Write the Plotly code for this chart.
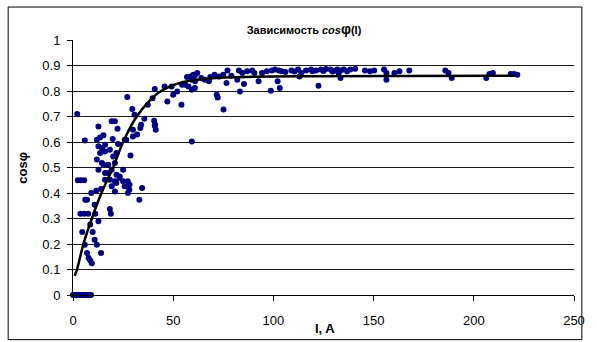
import plotly.graph_objects as go

# ---- data ----
current_I = [
    0, 0.4, 0.9, 1.4, 1.9, 2.4, 3, 3.6, 4.2, 4.8, 5.4, 6, 6.6, 7.2, 7.8, 8.4, 9,
    2.4, 4.0, 5.6, 6.1, 7.0, 3.7, 5.6, 7.6, 11.1, 4.6, 9.8, 5.9, 10.8, 11.9,
    7.0, 7.8, 8.6, 9.4, 14, 8.6, 12.7, 10.8, 9.1, 11.6, 14, 18.4, 18.9, 33.1, 34.5,
    16, 18.4, 20.9, 23.3, 25, 25.8, 28.2, 27.4, 20.9, 19.3, 16, 17.6, 19.3, 21.7, 25,
    14.4, 11.9, 12.7, 15.2, 17.6, 20.9, 13.5, 16, 18.4, 20.1, 21.7, 28.7,
    28.1, 27.3, 23.2, 21.6,
    2.1, 5.9, 12.7, 11.9, 13.5, 15.2, 12.7, 14.4, 16,
    19.3, 20.9, 22.2, 19.8, 22.5, 25.8, 26.6,
    27.1, 29.6, 30.7, 29.9, 29.9, 32, 33.6, 34, 35.6, 37.3, 39.7, 40.8, 40.5, 41, 41.3,
    40.8, 45.7, 47.1, 49.2, 50, 52, 54.1, 54.4, 56, 57.6, 56.9, 58.5, 59.3, 60.1, 60.9,
    59.3, 59.3,
    60.8, 60.8, 64, 65.7, 67.8, 70.6, 73, 75, 77.1, 71.7, 72.2, 75.1, 76.6, 82.8, 84.5,
    86.9, 89.4, 82, 85.3, 83.3, 92.6, 94.3, 96.7, 99.2, 100.8, 102.7, 104.1, 102.1,
    103.2, 98.7, 109, 112.3, 113.9, 116.3, 118.8, 121.3, 123.7, 126.2, 128.6, 131.1,
    132.6, 113, 122.5, 131.9, 133.5, 135.1, 136.8, 138.4, 140.8, 133.5, 145.7, 148.2,
    150.3, 155.2, 156.4, 156.4, 160.4, 162.9, 167.8, 185.8, 187.4, 189, 206.2, 207.8,
    209.5, 218.4, 220.1, 221.7,
    62, 68.5, 79, 90.5, 106, 110.5, 119.5, 125, 129.5,
]
cos_phi = [
    0, 0, 0, 0, 0, 0, 0, 0, 0, 0, 0, 0, 0, 0, 0, 0, 0,
    0.45, 0.45, 0.45, 0.374, 0.374, 0.319, 0.319, 0.319, 0.319, 0.247, 0.247, 0.197, 0.217, 0.197,
    0.165, 0.145, 0.135, 0.125, 0.165, 0.276, 0.289, 0.354, 0.4, 0.409, 0.416, 0.337, 0.319, 0.374, 0.42,
    0.452, 0.452, 0.446, 0.465, 0.446, 0.426, 0.432, 0.4, 0.406, 0.426, 0.478, 0.478, 0.491, 0.472, 0.491,
    0.518, 0.531, 0.491, 0.511, 0.511, 0.518, 0.557, 0.563, 0.57, 0.543, 0.557, 0.547,
    0.413, 0.446, 0.459, 0.439,
    0.71, 0.606, 0.661, 0.609, 0.618, 0.626, 0.583, 0.576, 0.589,
    0.681, 0.681, 0.652, 0.612, 0.592, 0.609, 0.609,
    0.776, 0.729, 0.707, 0.648, 0.622, 0.629, 0.655, 0.668, 0.691, 0.746, 0.772, 0.808, 0.683, 0.668, 0.648,
    0.664, 0.818, 0.759, 0.818, 0.785, 0.798, 0.746, 0.825, 0.825, 0.818, 0.855, 0.857, 0.844, 0.864, 0.838,
    0.805, 0.602,
    0.861, 0.812, 0.851, 0.844, 0.838, 0.864, 0.857, 0.864, 0.88, 0.785, 0.775, 0.727, 0.831, 0.88, 0.871,
    0.877, 0.88, 0.844, 0.827, 0.798, 0.838, 0.871, 0.877, 0.88, 0.884, 0.88, 0.877, 0.838,
    0.812, 0.801, 0.88, 0.884, 0.871, 0.88, 0.884, 0.88, 0.884, 0.886, 0.884, 0.88,
    0.871, 0.857, 0.821, 0.884, 0.88, 0.884, 0.877, 0.884, 0.887, 0.851, 0.88, 0.877,
    0.88, 0.884, 0.871, 0.844, 0.871, 0.877, 0.88, 0.88, 0.871, 0.851, 0.851, 0.867,
    0.871, 0.867, 0.867, 0.864,
    0.871, 0.855, 0.86, 0.871, 0.875, 0.876, 0.877, 0.878, 0.876,
]

trend_I = [0.8, 2, 5.2, 9.4, 14.2, 20, 25, 31, 38, 44, 55, 69, 90, 120, 160, 220]
trend_cos = [0.075, 0.10, 0.20, 0.30, 0.40, 0.50, 0.60, 0.69, 0.76, 0.80, 0.835, 0.85,
             0.856, 0.858, 0.859, 0.86]

x_ticks = [0, 50, 100, 150, 200, 250]
y_ticks = [0, 0.1, 0.2, 0.3, 0.4, 0.5, 0.6, 0.7, 0.8, 0.9, 1]
y_tick_labels = ["0", "0.1", "0.2", "0.3", "0.4", "0.5", "0.6", "0.7", "0.8", "0.9", "1"]

FONT = "Liberation Sans, Arial, sans-serif"

fig = go.Figure()
fig.add_trace(go.Scatter(
    x=current_I, y=cos_phi, mode="markers",
    marker=dict(color="#000080", size=6, line=dict(width=0)),
    cliponaxis=False, showlegend=False, hoverinfo="skip",
))
fig.add_trace(go.Scatter(
    x=trend_I, y=trend_cos, mode="lines",
    line=dict(color="#000000", width=2.5, shape="spline", smoothing=1.0),
    showlegend=False, hoverinfo="skip",
))

fig.update_layout(
    width=597, height=342,
    margin=dict(l=73, r=14, t=40, b=47),
    paper_bgcolor="white", plot_bgcolor="white",
    font=dict(family=FONT, size=13, color="black"),
    title=dict(
        text="<b>Зависимость <i>cos</i><span style='font-size:14px'>φ</span>(I)</b>",
        x=304 / 597, xanchor="center", xref="container",
        y=1 - 30 / 342, yanchor="middle", yref="container",
        font=dict(family=FONT, size=11, color="black"),
    ),
    xaxis=dict(
        range=[0, 250], tickvals=x_ticks, ticktext=[str(v) for v in x_ticks],
        showgrid=False, zeroline=False, showline=True, linecolor="#000000", linewidth=1,
        ticks="outside", ticklen=5, tickcolor="#000000", ticklabelstandoff=8,
        tickfont=dict(family=FONT, size=13, color="black"),
    ),
    yaxis=dict(
        range=[0, 1], tickvals=y_ticks, ticktext=y_tick_labels,
        showgrid=True, gridcolor="#1a1a1a", gridwidth=1,
        zeroline=False, showline=True, linecolor="#000000", linewidth=1,
        ticks="outside", ticklen=5, tickcolor="#000000", ticklabelstandoff=4,
        tickfont=dict(family=FONT, size=13, color="black"),
    ),
    annotations=[
        dict(text="<b>cosφ</b>", xref="paper", yref="paper",
             x=(22 - 73) / 510, y=(295.3 - 168) / 255.3, textangle=-90,
             showarrow=False, xanchor="center", yanchor="middle",
             font=dict(family=FONT, size=13, color="black")),
        dict(text="<b>I, A</b>", xref="paper", yref="paper",
             x=(330 - 73) / 510, y=(295.3 - 329) / 255.3,
             showarrow=False, xanchor="center", yanchor="middle",
             font=dict(family=FONT, size=13, color="black")),
    ],
    shapes=[
        dict(type="rect", xref="paper", yref="paper",
             x0=(7 - 73) / 510, x1=(591 - 73) / 510,
             y0=(295.3 - 340) / 255.3, y1=(295.3 - 7) / 255.3,
             line=dict(color="#000000", width=1), fillcolor="rgba(0,0,0,0)",
             layer="below"),
    ],
)

fig.write_html(
    "out.html",
    config={"displayModeBar": False},
    post_script="document.body.style.margin='0px';document.body.style.overflow='hidden';",
)
